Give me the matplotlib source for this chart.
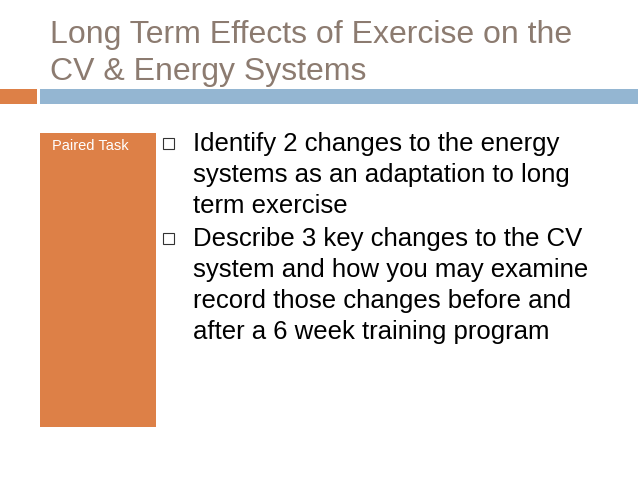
import matplotlib
matplotlib.use('Agg')
import matplotlib.pyplot as plt
from matplotlib.patches import Rectangle

title_lines = ['Long Term Effects of Exercise on the', 'CV & Energy Systems']
side_label = 'Paired Task'
bullets = [
    ['Identify 2 changes to the energy', 'systems as an adaptation to long', 'term exercise'],
    ['Describe 3 key changes to the CV', 'system and how you may examine',
     'record those changes before and', 'after a 6 week training program'],
]

W, H = 638, 479
fig = plt.figure(figsize=(W / 100, H / 100), dpi=100)
ax = fig.add_axes([0, 0, 1, 1])
ax.set_xlim(0, W); ax.set_ylim(H, 0); ax.axis('off')
font = 'Liberation Sans'

for i, t in enumerate(title_lines):
    ax.text(50, 35 + i * 37, t, fontsize=23, color='#8C7B70', family=font, va='center')

ax.add_patch(Rectangle((0, 89), 37, 15, color='#DD8047', lw=0))
ax.add_patch(Rectangle((40, 89), W - 40, 15, color='#94B6D2', lw=0))
ax.add_patch(Rectangle((40, 133), 116, 294, color='#DD8047', lw=0))
ax.text(52, 146, side_label, fontsize=10.5, color='white', family=font, va='center')

y = 144
for group in bullets:
    ax.add_patch(Rectangle((163, y - 6), 11, 11, fill=False, ec='#333333', lw=0.8))
    for line in group:
        ax.text(193, y, line, fontsize=18.5, color='black', family=font, va='center')
        y += 31
    y += 2

fig.savefig('out.png', dpi=100, facecolor='white')
